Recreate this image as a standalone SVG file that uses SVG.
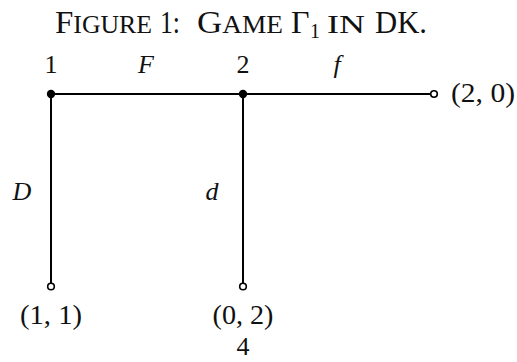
<svg xmlns="http://www.w3.org/2000/svg" width="517" height="362" viewBox="0 0 517 362">
<style>
text{font-family:"Liberation Serif","DejaVu Serif",serif;fill:#111;}
.t{font-size:32px;}
.sc{font-size:25px;}
.lbl{font-size:26px;}
.it{font-style:italic;}
.pay{font-size:28px;}
.edge{stroke:#000;stroke-width:2;fill:none;}
.dec{fill:#000;}
.term{fill:#fff;stroke:#000;stroke-width:1.6;}
</style>
<g id="title">
<text class="t" x="55" y="33" textLength="97" lengthAdjust="spacingAndGlyphs">F<tspan class="sc">IGURE</tspan></text>
<text class="t" x="160" y="33" textLength="20" lengthAdjust="spacingAndGlyphs">1:</text>
<text class="t" x="197" y="33" textLength="86" lengthAdjust="spacingAndGlyphs">G<tspan class="sc">AME</tspan></text>
<text class="t" x="291" y="33">Γ</text>
<text x="310" y="38" style="font-size:20px">1</text>
<text class="sc" x="327" y="33" textLength="38" lengthAdjust="spacingAndGlyphs">IN</text>
<text class="t" x="375" y="33" textLength="52" lengthAdjust="spacingAndGlyphs">DK.</text>
</g>
<g id="connectors">
<line class="edge" x1="51" y1="94" x2="430.5" y2="94"/>
<line class="edge" x1="51" y1="94" x2="51" y2="283"/>
<line class="edge" x1="243" y1="94" x2="243" y2="283"/>
<text class="lbl it" x="146" y="73" text-anchor="middle">F</text>
<text class="lbl it" x="337" y="73" text-anchor="middle">f</text>
<text class="lbl it" x="22" y="200" text-anchor="middle">D</text>
<text class="lbl it" x="212" y="200" text-anchor="middle">d</text>
</g>
<g id="node1">
<circle class="dec" cx="51" cy="94" r="4.2"/>
<text class="lbl" x="51" y="73" text-anchor="middle">1</text>
</g>
<g id="node2">
<circle class="dec" cx="243" cy="94" r="4.2"/>
<text class="lbl" x="243" y="73" text-anchor="middle">2</text>
</g>
<g id="leaf-f">
<circle class="term" cx="434" cy="94" r="3.3"/>
<text class="pay" x="451" y="102" textLength="64" lengthAdjust="spacingAndGlyphs">(2, 0)</text>
</g>
<g id="leaf-D">
<circle class="term" cx="51" cy="286.5" r="3.3"/>
<text class="pay" x="51" y="324" text-anchor="middle" textLength="62" lengthAdjust="spacingAndGlyphs">(1, 1)</text>
</g>
<g id="leaf-d">
<circle class="term" cx="243" cy="286.5" r="3.3"/>
<text class="pay" x="243" y="324" text-anchor="middle" textLength="61" lengthAdjust="spacingAndGlyphs">(0, 2)</text>
<text class="pay" x="243" y="355" text-anchor="middle" style="font-size:26px">4</text>
</g>
</svg>
